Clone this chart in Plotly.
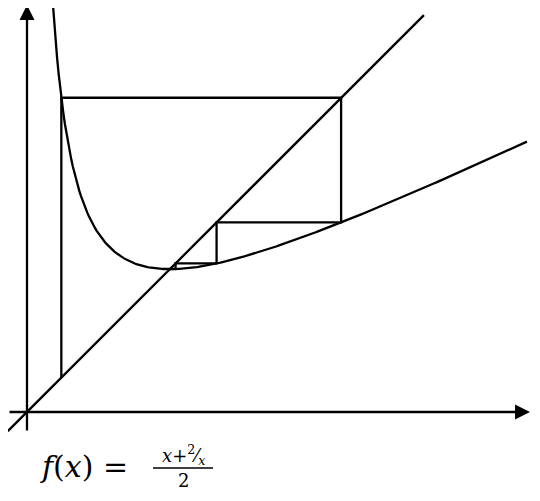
import numpy as np
import plotly.graph_objects as go

# cobweb iterates
cob_x = [0.34, 3.11, 1.877, 1.471, 1.415]
curve_x = np.linspace(0.25, 4.95, 300)
curve_y = (curve_x + 2 / curve_x) / 2
diag = [-0.19, 3.93]

OFF = 8  # page body margin
W, H = 540 - 2 * OFF, 501 - 2 * OFF
S = 101.0
ox, oy = 27 - OFF, 412 - OFF
xr = [(0 - ox) / S, (W - ox) / S]
yr = [(oy - H) / S, oy / S]

def f(x):
    return (x + 2 / x) / 2

px, py = [cob_x[0]], [cob_x[0]]
for i in range(len(cob_x) - 1):
    x = cob_x[i]
    y = f(x)
    px += [x, cob_x[i + 1]]
    py += [y, y]
    px.append(cob_x[i + 1]); py.append(cob_x[i + 1])

fig = go.Figure()
ln = dict(color="black", width=2.3)
fig.add_trace(go.Scatter(x=diag, y=diag, mode="lines", line=ln))
fig.add_trace(go.Scatter(x=curve_x, y=curve_y, mode="lines", line=ln))
fig.add_trace(go.Scatter(x=px, y=py, mode="lines", line=ln))

def P(xp, yp):
    return ((xp - OFF) / W, 1 - (yp - OFF) / H)

fig.add_annotation(x=(530 - OFF - ox) / S, y=0, ax=(8 - OFF - ox) / S, ay=0, xref="x", yref="y",
                   axref="x", ayref="y", showarrow=True, arrowhead=2, arrowsize=1.3,
                   arrowwidth=2.3, arrowcolor="black", text="")
fig.add_annotation(x=0, y=(oy - 5 + OFF) / S, ax=0, ay=(oy - 432 + OFF) / S, xref="x", yref="y",
                   axref="x", ayref="y", showarrow=True, arrowhead=2, arrowsize=1.3,
                   arrowwidth=2.3, arrowcolor="black", text="")

serif = "DejaVu Serif, Liberation Serif, serif"
x1, y1 = P(38, 466)
fig.add_annotation(xref="paper", yref="paper", x=x1, y=y1, xanchor="left",
                   yanchor="middle", showarrow=False,
                   text="<i>f</i>(<i>x</i>) = ", font=dict(family=serif, size=30, color="black"))
x2, y2 = P(183, 455)
fig.add_annotation(xref="paper", yref="paper", x=x2, y=y2, xanchor="center",
                   yanchor="middle", showarrow=False,
                   text="<i>x</i>+<sup>2</sup>⁄<sub><i>x</i></sub>",
                   font=dict(family=serif, size=18, color="black"))
x3, y3 = P(183, 480)
fig.add_annotation(xref="paper", yref="paper", x=x3, y=y3, xanchor="center",
                   yanchor="middle", showarrow=False, text="2",
                   font=dict(family=serif, size=18, color="black"))
a, b = P(153, 468)
c, _ = P(213, 468)
fig.add_shape(type="line", xref="paper", yref="paper", x0=a, x1=c,
              y0=b, y1=b, line=dict(color="black", width=1.5))

fig.update_layout(width=W, height=H, margin=dict(l=0, r=0, t=0, b=0),
                  plot_bgcolor="white", paper_bgcolor="white", showlegend=False)
fig.update_xaxes(range=xr, visible=False)
fig.update_yaxes(range=yr, visible=False)
fig.write_html("out.html")
